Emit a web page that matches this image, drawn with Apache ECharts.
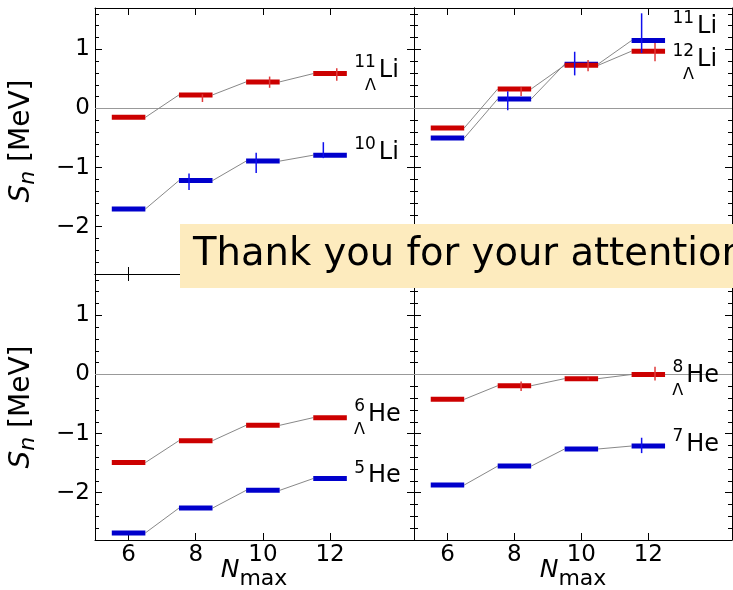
<!DOCTYPE html>
<html><head><meta charset="utf-8">
<script src="https://cdn.jsdelivr.net/npm/echarts@6/dist/echarts.min.js"></script>
<style>html,body{margin:0;padding:0;background:#fff}#c{width:733px;height:590px}</style>
</head><body><div id="c"></div>
<script>
// ---------------- data ----------------
const nmax = [6, 8, 10, 12];
const xTicks = [6, 8, 10, 12];
const yTicks = [-2, -1, 0, 1];

// top-left: 11_Λ Li (red), 10Li (blue)
const li11L   = [-0.15, 0.23, 0.45, 0.59];
const li11LLo = [null, 0.11, 0.35, 0.47];
const li11LHi = [null, 0.24, 0.54, 0.68];
const li10    = [-1.70, -1.22, -0.89, -0.79];
const li10Lo  = [null, -1.38, -1.09, -0.84];
const li10Hi  = [null, -1.10, -0.75, -0.57];
// top-right: 12_Λ Li (red), 11Li (blue)
const li12L   = [-0.33, 0.33, 0.73, 0.97];
const li12LLo = [null, 0.21, 0.63, 0.80];
const li12LHi = [null, 0.36, 0.82, 1.11];
const li11    = [-0.50, 0.16, 0.75, 1.15];
const li11Lo  = [null, -0.03, 0.56, 0.94];
const li11Hi  = [null, 0.29, 0.96, 1.61];
// bottom-left: 6_Λ He (red), 5He (blue)
const he6L    = [-1.49, -1.12, -0.86, -0.73];
const he5     = [-2.68, -2.26, -1.96, -1.76];
// bottom-right: 8_Λ He (red), 7He (blue)
const he8L    = [-0.42, -0.19, -0.07, 0.00];
const he8LLo  = [null, -0.28, -0.09, -0.10];
const he8LHi  = [null, -0.12, -0.05, 0.13];
const he7     = [-1.87, -1.55, -1.26, -1.21];
const he7Lo   = [null, null, null, -1.33];
const he7Hi   = [null, null, null, -1.07];

// nucleus labels (annotation anchors in data units)
const nucLabels = [
  {panel: 0, sup: '11', sub: 'Λ', main: 'Li', x: 12.72, y: 0.64},
  {panel: 0, sup: '10', sub: '',  main: 'Li', x: 12.72, y: -0.75},
  {panel: 1, sup: '11', sub: '',  main: 'Li', x: 12.72, y: 1.39},
  {panel: 1, sup: '12', sub: 'Λ', main: 'Li', x: 12.72, y: 0.83},
  {panel: 2, sup: '6',  sub: 'Λ', main: 'He', x: 12.72, y: -0.685},
  {panel: 2, sup: '5',  sub: '',  main: 'He', x: 12.72, y: -1.72},
  {panel: 3, sup: '8',  sub: 'Λ', main: 'He', x: 12.72, y: -0.02},
  {panel: 3, sup: '7',  sub: '',  main: 'He', x: 12.72, y: -1.19}
];

// ---------------- layout / style ----------------
const FONT = 'DejaVu Sans';
const RED = '#cc0000', BLUE = '#0000cc';
const RED_ERR = '#e03a3a', BLUE_ERR = '#1010ee';
const grids = [
  {left: 95, top: 8, width: 319, height: 266},
  {left: 414, top: 8, width: 318, height: 266},
  {left: 95, top: 274, width: 319, height: 266},
  {left: 414, top: 274, width: 318, height: 266}
];
const yMinor = [];
for (let k = -14; k <= 8; k++) { if (k % 5 !== 0) yMinor.push(+(k * 0.2).toFixed(1)); }

const ctx = document.createElement('canvas').getContext('2d');
function tw(t, size, style) { ctx.font = (style || '') + ' ' + size + 'px "' + FONT + '"'; return ctx.measureText(t).width; }

const axisLine = {show: true, onZero: false, lineStyle: {color: '#000', width: 1}};
const xAxis = [], yAxis = [];
grids.forEach((g, gi) => {
  const bottomRow = gi >= 2, leftCol = gi % 2 === 0;
  const xb = {gridIndex: gi, type: 'value', min: 5, max: 14.5, splitLine: {show: false}, axisLine};
  xAxis.push(Object.assign({}, xb, {position: 'bottom',
    axisTick: {show: true, inside: true, length: 7, customValues: xTicks, lineStyle: {color: '#000'}},
    axisLabel: {show: bottomRow, customValues: xTicks, fontSize: 23, color: '#000', fontFamily: FONT, margin: 4}}));
  xAxis.push(Object.assign({}, xb, {position: 'top',
    axisTick: {show: true, inside: true, length: 7, customValues: xTicks, lineStyle: {color: '#000'}},
    axisLabel: {show: false}}));
  const yb = {gridIndex: gi, type: 'value', min: -2.8, max: 1.7, splitLine: {show: false}};
  yAxis.push(Object.assign({}, yb, {position: 'left', axisLine,
    axisTick: {show: true, inside: true, length: 7, customValues: yTicks, lineStyle: {color: '#000'}},
    axisLabel: {show: leftCol, customValues: yTicks, fontSize: 23, color: '#000', fontFamily: FONT, margin: 5,
      formatter: v => String(v).replace('-', '\u2212')}}));
  yAxis.push(Object.assign({}, yb, {position: 'left', axisLine: {show: false},
    axisTick: {show: true, inside: true, length: 4, customValues: yMinor, lineStyle: {color: '#000'}},
    axisLabel: {show: false}}));
  yAxis.push(Object.assign({}, yb, {position: 'right', axisLine,
    axisTick: {show: true, inside: true, length: 7, customValues: yTicks, lineStyle: {color: '#000'}},
    axisLabel: {show: false}}));
  yAxis.push(Object.assign({}, yb, {position: 'right', axisLine: {show: false},
    axisTick: {show: true, inside: true, length: 4, customValues: yMinor, lineStyle: {color: '#000'}},
    axisLabel: {show: false}}));
});

function levelSeries(gi, vals, lo, hi, color, errColor, errOff) {
  return {
    type: 'custom', xAxisIndex: gi * 2, yAxisIndex: gi * 4, z: 3, silent: true, clip: false,
    data: nmax.map((n, i) => [n, vals[i]]),
    renderItem: (params, api) => {
      const i = params.dataIndex;
      const n = api.value(0), v = api.value(1);
      const children = [];
      const p0 = api.coord([n - 0.5, v]), p1 = api.coord([n + 0.5, v]);
      if (i < nmax.length - 1) {
        const q = api.coord([nmax[i + 1] - 0.5, vals[i + 1]]);
        children.push({type: 'line', z2: 1, shape: {x1: p1[0], y1: p1[1], x2: q[0], y2: q[1]},
          style: {stroke: '#888888', lineWidth: 1}});
      }
      children.push({type: 'rect', z2: 2, shape: {x: p0[0], y: p0[1] - 2.5, width: p1[0] - p0[0], height: 5},
        style: {fill: color}});
      if (lo && lo[i] != null) {
        const a = api.coord([n + errOff, lo[i]]), b = api.coord([n + errOff, hi[i]]);
        children.push({type: 'line', z2: 3, shape: {x1: a[0], y1: a[1], x2: b[0], y2: b[1]},
          style: {stroke: errColor, lineWidth: 1.5}});
      }
      return {type: 'group', children};
    }
  };
}

function zeroSeries(gi) {
  return {
    type: 'custom', xAxisIndex: gi * 2, yAxisIndex: gi * 4, z: 1, silent: true,
    data: [[0]],
    renderItem: (params, api) => {
      const cs = params.coordSys;
      const yy = api.coord([6, 0])[1];
      return {type: 'line', shape: {x1: cs.x, y1: yy, x2: cs.x + cs.width, y2: yy},
        style: {stroke: '#999999', lineWidth: 1.2}};
    }
  };
}

function labelSeries(gi) {
  const items = nucLabels.filter(l => l.panel === gi);
  return {
    type: 'custom', xAxisIndex: gi * 2, yAxisIndex: gi * 4, z: 5, silent: true, clip: false,
    data: items.map(l => [l.x, l.y]),
    renderItem: (params, api) => {
      const l = items[params.dataIndex];
      const p = api.coord([api.value(0), api.value(1)]);
      const supW = tw(l.sup, 17);
      const ch = [
        {type: 'text', style: {text: l.sup, x: p[0], y: p[1] - 8, font: '17px "' + FONT + '"', fill: '#000',
          verticalAlign: 'middle', align: 'left'}},
        {type: 'text', style: {text: l.main, x: p[0] + supW + 3, y: p[1], font: '24px "' + FONT + '"', fill: '#000',
          verticalAlign: 'middle', align: 'left'}}
      ];
      if (l.sub) ch.push({type: 'text', style: {text: l.sub, x: p[0] + supW, y: p[1] + 15, font: '16px "' + FONT + '"',
        fill: '#000', verticalAlign: 'middle', align: 'right'}});
      return {type: 'group', children: ch};
    }
  };
}

const series = [];
[[li11L, li11LLo, li11LHi, li10, li10Lo, li10Hi],
 [li12L, li12LLo, li12LHi, li11, li11Lo, li11Hi],
 [he6L, null, null, he5, null, null],
 [he8L, he8LLo, he8LHi, he7, he7Lo, he7Hi]].forEach((d, gi) => {
  series.push(zeroSeries(gi));
  series.push(levelSeries(gi, d[3], d[4], d[5], BLUE, BLUE_ERR, -0.2));
  series.push(levelSeries(gi, d[0], d[1], d[2], RED, RED_ERR, 0.2));
  series.push(labelSeries(gi));
});

// axis titles
function yTitle(cy) {
  const s1 = 28, s2 = 22;
  const w1 = tw('S', s1, 'italic'), w2 = tw('n', s2, 'italic'), w3 = tw(' [MeV]', s1);
  const start = -(w1 + w2 + w3) / 2;
  return {type: 'group', x: 22, y: cy, rotation: Math.PI / 2, z: 50, children: [
    {type: 'text', style: {text: 'S', x: start, y: 0, font: 'italic ' + s1 + 'px "' + FONT + '"', fill: '#000', verticalAlign: 'middle'}},
    {type: 'text', style: {text: 'n', x: start + w1, y: 6, font: 'italic ' + s2 + 'px "' + FONT + '"', fill: '#000', verticalAlign: 'middle'}},
    {type: 'text', style: {text: ' [MeV]', x: start + w1 + w2, y: 0, font: s1 + 'px "' + FONT + '"', fill: '#000', verticalAlign: 'middle'}}
  ]};
}
function xTitle(cx) {
  const s1 = 25, s2 = 22;
  const w1 = tw('N', s1, 'italic'), w2 = tw('max', s2);
  const start = cx - (w1 + w2) / 2;
  return {type: 'group', z: 50, children: [
    {type: 'text', style: {text: 'N', x: start, y: 570, font: 'italic ' + s1 + 'px "' + FONT + '"', fill: '#000', verticalAlign: 'middle'}},
    {type: 'text', style: {text: 'max', x: start + w1, y: 579, font: s2 + 'px "' + FONT + '"', fill: '#000', verticalAlign: 'middle'}}
  ]};
}

const chart = echarts.init(document.getElementById('c'), null, {renderer: 'canvas'});
chart.setOption({
  animation: false,
  backgroundColor: '#fff',
  textStyle: {fontFamily: FONT},
  grid: grids,
  xAxis, yAxis, series,
  graphic: [
    yTitle(141), yTitle(407), xTitle(254), xTitle(573),
    {type: 'rect', z: 100, shape: {x: 180, y: 224, width: 560, height: 64}, style: {fill: '#fdebbe'}},
    {type: 'text', z: 101, style: {text: 'Thank you for your attention', x: 193, y: 255,
      font: '38.5px "' + FONT + '"', fill: '#000', verticalAlign: 'middle'}}
  ]
});
</script></body></html>
